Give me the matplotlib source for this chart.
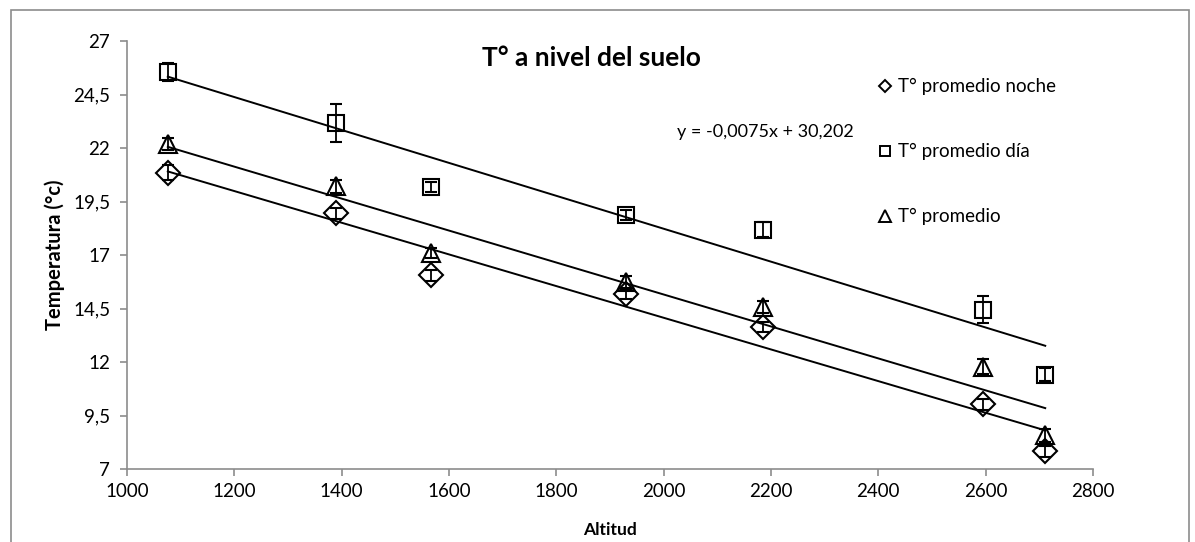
import matplotlib
matplotlib.use("Agg")
import matplotlib.pyplot as plt
from matplotlib.lines import Line2D
from matplotlib.patches import Rectangle
import numpy as np

plt.rcParams['font.family'] = ['Lato', 'DejaVu Sans']

altitud = [1076, 1390, 1567, 1930, 2185, 2595, 2711]
t_noche = [20.85, 18.95, 16.05, 15.18, 13.64, 10.02, 7.82]
t_dia = [25.55, 23.17, 20.18, 18.87, 18.17, 14.45, 11.40]
t_prom = [22.19, 20.22, 17.09, 15.74, 14.57, 11.77, 8.58]
err_noche = [0.35, 0.25, 0.25, 0.25, 0.25, 0.25, 0.25]
err_dia = [0.4, 0.9, 0.25, 0.25, 0.35, 0.62, 0.3]
err_prom = [0.3, 0.3, 0.25, 0.3, 0.3, 0.35, 0.3]

yticks = [7, 9.5, 12, 14.5, 17, 19.5, 22, 24.5, 27]
ytick_labels = ["7", "9,5", "12", "14,5", "17", "19,5", "22", "24,5", "27"]
xticks = [1000, 1200, 1400, 1600, 1800, 2000, 2200, 2400, 2600, 2800]

fig = plt.figure(figsize=(11.95, 5.42), dpi=100)
ax = fig.add_axes([127/1195, 1 - 469/542, (1093-127)/1195, (469-41)/542])

# chart area border
fig.patches.append(Rectangle((11/1195, -0.01), (1189-11)/1195, 1 - 10/542 + 0.01,
                             transform=fig.transFigure, fill=False,
                             edgecolor='#8c8c8c', linewidth=1.2))

series = [
    (t_noche, err_noche, 'D', 12),
    (t_dia, err_dia, 's', 12),
    (t_prom, err_prom, '^', 13),
]
x = np.array(altitud, dtype=float)
for vals, err, mk, ms in series:
    ax.errorbar(altitud, vals, yerr=err, fmt=mk, ms=ms, mfc='none', mec='black',
                mew=1.5, ecolor='black', elinewidth=1.3, capsize=4, capthick=1.3,
                zorder=3)
    p = np.polyfit(x, np.array(vals), 1)
    xs = np.array([x.min(), x.max()])
    ax.plot(xs, np.polyval(p, xs), color='black', lw=1.4, zorder=2)

ax.set_xlim(1000, 2800)
ax.set_ylim(7, 27)
ax.set_xticks(xticks)
ax.set_yticks(yticks)
ax.set_yticklabels(ytick_labels)
for s in ['top', 'right']:
    ax.spines[s].set_visible(False)
for s in ['left', 'bottom']:
    ax.spines[s].set_color('#8c8c8c')
    ax.spines[s].set_linewidth(1.2)
ax.tick_params(axis='both', direction='out', length=5, color='#8c8c8c',
               labelsize=13.5, width=1.2)
ax.tick_params(axis='y', pad=7)
ax.tick_params(axis='x', pad=5)

ax.set_xlabel("Altitud", fontsize=12.5, fontweight='bold', labelpad=16)
ax.set_ylabel("Temperatura (°c)", fontsize=14.5, fontweight='bold', labelpad=6)

fig.text(591/1195, 1 - 58/542, "T° a nivel del suelo", fontsize=19,
         fontweight='bold', ha='center', va='center')
fig.text(765/1195, 1 - 132/542, "y = -0,0075x + 30,202", fontsize=13,
         ha='center', va='center')

handles = [
    Line2D([], [], ls='none', marker='D', ms=6, mfc='none', mec='black', mew=1.4),
    Line2D([], [], ls='none', marker='s', ms=7, mfc='none', mec='black', mew=1.4),
    Line2D([], [], ls='none', marker='^', ms=8, mfc='none', mec='black', mew=1.4),
]
labels = ["T° promedio noche", "T° promedio día", "T° promedio"]
fig.legend(handles, labels, loc='upper left', bbox_to_anchor=(868/1195, 1 - 69/542),
           frameon=False, fontsize=13.5, handlelength=0.8, handletextpad=0.3,
           labelspacing=2.55, borderpad=0)

fig.savefig("out.png", dpi=100, facecolor='white')
